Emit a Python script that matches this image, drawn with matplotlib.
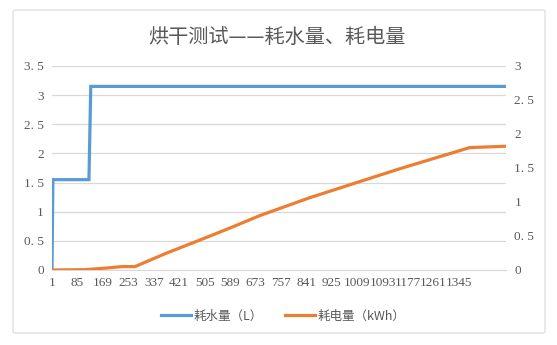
import matplotlib.pyplot as plt
from matplotlib.patches import FancyBboxPatch

plt.rcParams['font.family'] = ['Noto Sans CJK SC', 'DejaVu Sans']

# 耗水量 (L): breakpoints of the step curve, by sample index
water_x = [1, 4, 123, 129, 1500]
water_y = [0, 1.55, 1.55, 3.15, 3.15]

# 耗电量 (kWh): readings along the run
power_x = [1, 110, 183, 232, 275, 380, 489, 590, 687, 850, 1017, 1150, 1291, 1380, 1440, 1500]
power_y = [0, 0.005, 0.03, 0.05, 0.05, 0.25, 0.44, 0.62, 0.80, 1.06, 1.30, 1.49, 1.68, 1.80, 1.81, 1.82]

xticks = list(range(1, 1346, 84))
left_ticks = [0, 0.5, 1, 1.5, 2, 2.5, 3, 3.5]
right_ticks = [0, 0.5, 1, 1.5, 2, 2.5, 3]

text_color = '#595959'
grid_color = '#d9d9d9'

fig = plt.figure(figsize=(5.57, 3.45), dpi=100)

# chart border
border = FancyBboxPatch((13 / 557, 1 - 333 / 345), (545 - 13) / 557, (333 - 10) / 345,
                        boxstyle='round,pad=0,rounding_size=0.004', transform=fig.transFigure,
                        facecolor='none', edgecolor='#d9d9d9', linewidth=0.8)
fig.patches.append(border)

ax = fig.add_axes([52 / 557, 1 - 270 / 345, 454 / 557, 204 / 345])
ax.set_facecolor('none')
ax2 = ax.twinx()

l1, = ax.plot(water_x, water_y, color='#5b9bd5', linewidth=2.3, solid_joinstyle='miter')
l2, = ax2.plot(power_x, power_y, color='#ed7d31', linewidth=2.3)

ax.set_xlim(1, 1500)
ax.set_ylim(0, 3.5)
ax2.set_ylim(0, 3)
ax.set_xticks(xticks)
ax.set_xticklabels([str(t) for t in xticks])
ax.set_yticks(left_ticks)
ax.set_yticklabels(['0', '0. 5', '1', '1. 5', '2', '2. 5', '3', '3. 5'])
ax2.set_yticks(right_ticks)
ax2.set_yticklabels(['0', '0. 5', '1', '1. 5', '2', '2. 5', '3'])

ax.grid(axis='y', color=grid_color, linewidth=0.9)
ax.set_axisbelow(True)
for a in (ax, ax2):
    for s in a.spines.values():
        s.set_visible(False)
    a.tick_params(length=0, labelsize=9.5, labelcolor=text_color, pad=6)
    for lab in a.get_xticklabels() + a.get_yticklabels():
        lab.set_family('Liberation Serif')
ax.spines['bottom'].set_visible(True)
ax.spines['bottom'].set_color(grid_color)
ax.tick_params(axis='x', pad=5)

fig.text(277 / 557, 1 - 37 / 345, '烘干测试——耗水量、耗电量', ha='center', va='center',
         fontsize=14.5, color=text_color)

fig.legend([l1, l2], ['耗水量（L）', '耗电量（kWh）'], loc='center', ncol=2,
           bbox_to_anchor=(283 / 557, 1 - 316 / 345), frameon=False, fontsize=9,
           labelcolor=text_color, handlelength=2.4, columnspacing=1.8, handletextpad=0.2)

fig.savefig('out.png', dpi=100)
